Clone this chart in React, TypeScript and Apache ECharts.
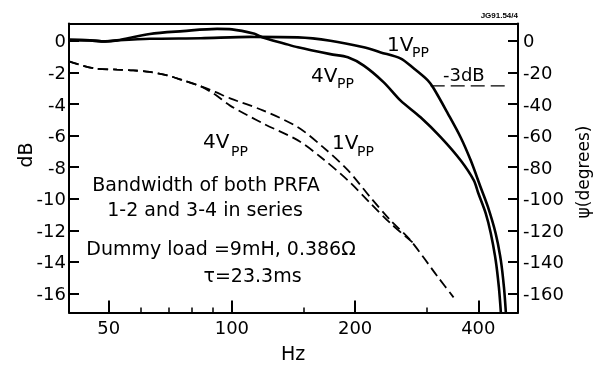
import React, { useEffect, useRef } from "react";
import * as echarts from "echarts";

// Gain (dB, left axis) — solid curves
const freqSolid1V = [40, 45, 49, 52.4, 63, 84, 111, 145, 174, 210, 231, 258, 278, 301, 311, 337, 362, 383, 405, 422, 441, 454, 462, 467];
const dbSolid1V = [0.06, 0.03, -0.03, 0.03, 0.13, 0.17, 0.25, 0.22, 0.01, -0.41, -0.73, -1.11, -1.74, -2.5, -3.0, -4.6, -6.1, -7.55, -9.25, -10.5, -12.2, -13.9, -15.6, -17.2];

const freqSolid4V = [40, 45, 49, 52.4, 63, 76, 92, 100, 113, 119, 134, 145, 174, 192, 210, 235, 258, 289, 324, 362, 390, 400, 417, 429, 441, 449, 454];
const dbSolid4V = [0.06, 0.03, -0.03, 0.03, 0.44, 0.62, 0.76, 0.73, 0.46, 0.22, -0.16, -0.41, -0.84, -1.04, -1.57, -2.63, -3.77, -4.84, -6.11, -7.56, -8.83, -9.65, -10.92, -12.18, -13.89, -15.6, -17.18];

// Phase (degrees, right axis) — dashed curves
const freqPhase1V = [40, 46, 52.4, 57.4, 63, 69.5, 76, 84, 91, 99, 119, 145, 167, 192, 218, 244, 273, 319, 348];
const degPhase1V = [-13, -17.4, -18.2, -18.7, -19.7, -21.8, -25, -28.8, -32.3, -36.4, -44, -54.7, -67.3, -81.9, -99.1, -113.6, -126.3, -149.7, -162.4];

const freqPhase4V = [40, 46, 52.4, 57.4, 63, 69.5, 76, 84, 91, 99, 119, 145, 165, 192, 218, 244, 278];
const degPhase4V = [-13, -17.4, -18.2, -18.7, -19.7, -21.8, -25, -28.8, -34, -41, -52.2, -63, -73.7, -88.3, -102.8, -115.5, -128.2];

// -3 dB reference line
const freqMinus3 = [306, 467];
const dbMinus3 = [-2.85, -2.85];

// Tick values
const hzMajorTicks = [50, 100, 200, 400];
const hzMinorTicks = [60, 70, 80, 90, 150, 300];
const dbTicks = [0, -2, -4, -6, -8, -10, -12, -14, -16];
const degTicks = [0, -20, -40, -60, -80, -100, -120, -140, -160];

const FONT = "DejaVu Sans";

const zip = (xs: number[], ys: number[]) => xs.map((x, i) => [x, ys[i]]);

function txt(text: string, x: number, y: number, size: number, align = "left", extra: any = {}) {
  return {
    type: "text",
    x,
    y,
    ...extra,
    style: {
      text,
      fontSize: size,
      fontFamily: FONT,
      fill: "#000",
      align,
      verticalAlign: "middle",
      ...(extra.style || {}),
    },
  };
}

export default function App() {
  const ref = useRef<HTMLDivElement>(null);
  useEffect(() => {
    if (!ref.current) return;
    const chart = echarts.init(ref.current, undefined, { renderer: "svg" });
    const mkLine = () => ({ show: true, onZero: false, lineStyle: { color: "#000", width: 2 } });
    const labelStyle = { color: "#000", fontSize: 18, fontFamily: FONT };
    chart.setOption({
      animation: false,
      grid: { left: 69, right: 85, top: 23.5, bottom: 57.5 },
      xAxis: [
        {
          type: "log",
          logBase: 10,
          min: 40,
          max: 500,
          position: "bottom",
          z: 5,
          axisLine: mkLine(),
          axisTick: { show: true, inside: true, length: 12, lineStyle: { color: "#000", width: 2 }, customValues: hzMajorTicks },
          axisLabel: { ...labelStyle, margin: 6, customValues: hzMajorTicks },
          splitLine: { show: false },
        },
        {
          type: "log",
          logBase: 10,
          min: 40,
          max: 500,
          position: "bottom",
          z: 5,
          axisLine: { show: false, onZero: false },
          axisTick: { show: true, inside: true, length: 5, lineStyle: { color: "#000", width: 1.5 }, customValues: hzMinorTicks },
          axisLabel: { show: false },
          splitLine: { show: false },
        },
        {
          type: "log",
          logBase: 10,
          min: 40,
          max: 500,
          position: "top",
          z: 5,
          axisLine: mkLine(),
          axisTick: { show: false },
          axisLabel: { show: false },
          splitLine: { show: false },
        },
      ],
      yAxis: [
        {
          type: "value",
          min: -17.2,
          max: 1.1,
          position: "left",
          z: 5,
          axisLine: mkLine(),
          axisTick: { show: true, inside: true, length: 10, lineStyle: { color: "#000", width: 2 }, customValues: dbTicks },
          axisLabel: { ...labelStyle, margin: 3, customValues: dbTicks },
          splitLine: { show: false },
        },
        {
          type: "value",
          min: -172,
          max: 11,
          position: "right",
          z: 5,
          axisLine: mkLine(),
          axisTick: { show: true, inside: true, length: 10, lineStyle: { color: "#000", width: 2 }, customValues: degTicks },
          axisLabel: { ...labelStyle, margin: 5, customValues: degTicks },
          splitLine: { show: false },
        },
      ],
      series: [
        {
          type: "line",
          name: "1Vpp gain",
          xAxisIndex: 0,
          yAxisIndex: 0,
          data: zip(freqSolid1V, dbSolid1V),
          showSymbol: false,
          smooth: 0.3,
          lineStyle: { color: "#000", width: 2.6 },
        },
        {
          type: "line",
          name: "4Vpp gain",
          xAxisIndex: 0,
          yAxisIndex: 0,
          data: zip(freqSolid4V, dbSolid4V),
          showSymbol: false,
          smooth: 0.3,
          lineStyle: { color: "#000", width: 2.6 },
        },
        {
          type: "line",
          name: "1Vpp phase",
          xAxisIndex: 0,
          yAxisIndex: 1,
          data: zip(freqPhase1V, degPhase1V),
          showSymbol: false,
          smooth: 0.3,
          lineStyle: { color: "#000", width: 1.8, type: [10, 5] },
        },
        {
          type: "line",
          name: "4Vpp phase",
          xAxisIndex: 0,
          yAxisIndex: 1,
          data: zip(freqPhase4V, degPhase4V),
          showSymbol: false,
          smooth: 0.3,
          lineStyle: { color: "#000", width: 1.8, type: [10, 5] },
        },
        {
          type: "line",
          name: "-3dB",
          xAxisIndex: 0,
          yAxisIndex: 0,
          data: zip(freqMinus3, dbMinus3),
          showSymbol: false,
          lineStyle: { color: "#000", width: 1.4, type: [14, 6] },
        },
      ],
      graphic: [
        txt("dB", 25, 155, 19, "center", { rotation: Math.PI / 2 }),
        txt("ψ(degrees)", 583, 172, 17, "center", { rotation: Math.PI / 2 }),
        txt("Hz", 293, 353, 19, "center"),
        txt("JG91.54/4", 518, 15.5, 8, "right", { style: { fontWeight: "bold", fontFamily: "Liberation Sans" } }),
        txt("1V", 387, 44, 20),
        txt("PP", 412, 52, 14),
        txt("4V", 311, 75, 20),
        txt("PP", 337, 83, 14),
        txt("4V", 203, 141, 20),
        txt("PP", 231, 151, 14),
        txt("1V", 332, 142, 20),
        txt("PP", 357, 151, 14),
        txt("-3dB", 443, 74, 18),
        txt("Bandwidth of both PRFA", 206, 183.5, 19, "center"),
        txt("1-2 and 3-4 in series", 205, 208.5, 19, "center"),
        txt("Dummy load =9mH, 0.386Ω", 221, 247.5, 19, "center"),
        txt("τ=23.3ms", 252.5, 275, 19, "center"),
      ],
    });
    return () => chart.dispose();
  }, []);
  return <div ref={ref} style={{ position: "fixed", left: 0, top: 0, width: 603, height: 370 }} />;
}
